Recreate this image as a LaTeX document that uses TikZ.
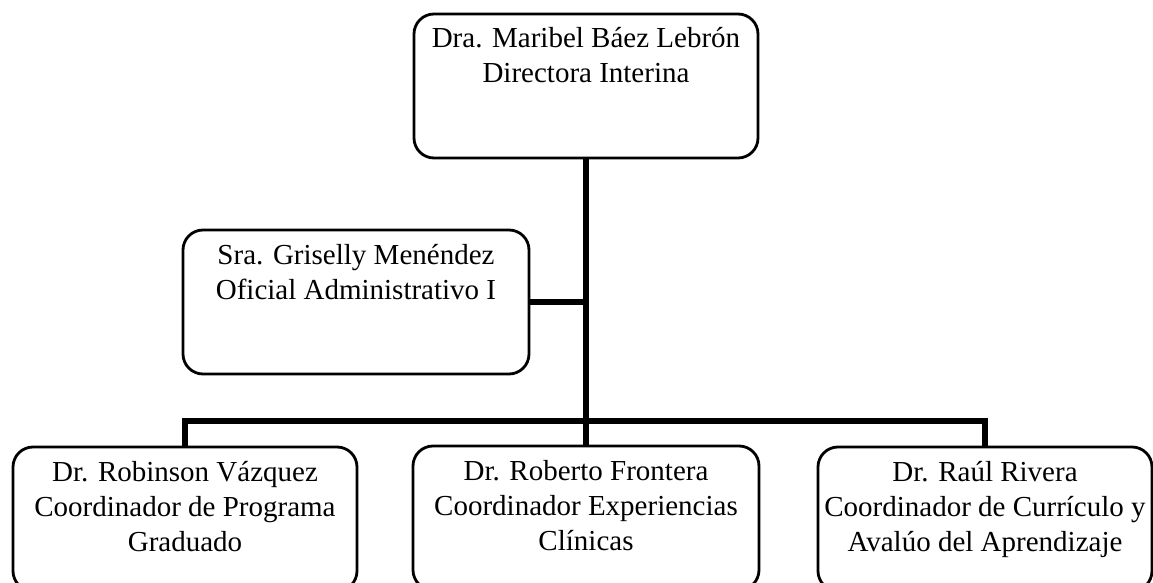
\documentclass[tikz,border=0pt]{standalone}
\usepackage{fontspec}
\setmainfont{Liberation Serif}
\newcommand\orgtext[3]{\parbox[c][#2][t]{#1}{\centering\fontsize{14.5}{17.5}\selectfont\rule{0pt}{17pt}#3}}
\begin{document}
\begin{tikzpicture}[x=0.5pt,y=-0.5pt,
  orgbox/.style={draw=black, line width=1.4pt, rounded corners=10pt, inner sep=0pt, fill=white},
  conn/.style={draw=black, line width=3pt, line join=miter}]
\fill[white] (0,0) rectangle (1153,583);
\useasboundingbox (0,0) rectangle (1153,583);
% connectors first
\coordinate (bus) at (0,421);
\node[orgbox] (top) at (586,86) {\orgtext{172pt}{72pt}{Dra. Maribel Báez Lebrón\\Directora Interina}};
\node[orgbox] (gris) at (356,302) {\orgtext{173pt}{72pt}{Sra. Griselly Menéndez\\Oficial Administrativo I}};
\node[orgbox] (left) at (185,519) {\orgtext{172pt}{72pt}{Dr. Robinson Vázquez\\Coordinador de Programa\\Graduado}};
\node[orgbox] (mid) at (586,518) {\orgtext{173pt}{72pt}{Dr. Roberto Frontera\\Coordinador Experiencias\\Clínicas}};
\node[orgbox] (right) at (985,519) {\orgtext{167pt}{72pt}{Dr. Raúl Rivera\\Coordinador de Currículo y\\Avalúo del Aprendizaje}};
\draw[conn] (top.south) -- (top.south |- bus);
\draw[conn] (gris.east) -- (gris.east -| top.south);
\draw[conn] (left.north) -- (left.north |- bus) -| (right.north);
\draw[conn] (mid.north) -- (mid.north |- bus);
\end{tikzpicture}
\end{document}
